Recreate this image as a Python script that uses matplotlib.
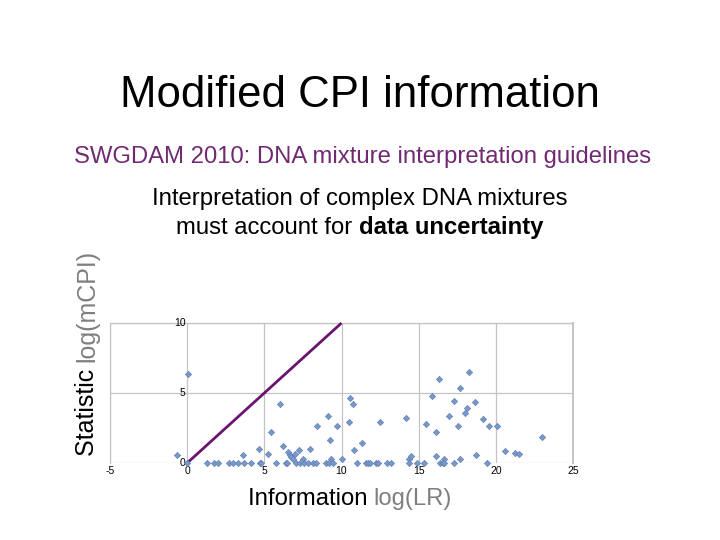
import matplotlib.pyplot as plt
import numpy as np

plt.rcParams['font.family'] = ['Liberation Sans', 'DejaVu Sans']
plt.rcParams['axes.unicode_minus'] = False

# Data: information log(LR) vs statistic log(mCPI)
lr_nonzero = [-0.64, 0.04, 3.6, 4.67, 5.25, 5.46, 6.0, 6.21, 6.53, 6.65, 6.75, 6.86,
              6.96, 7.24, 7.49, 7.97, 8.42, 9.1, 9.25, 9.31, 9.68, 10.0, 10.56, 10.74,
              10.5, 10.78, 11.3, 12.5, 14.18, 14.35, 14.48, 15.5, 15.86, 16.15, 16.15,
              16.3, 16.67, 16.99, 17.27, 17.58, 17.68, 17.7, 18.0, 18.1, 18.29, 18.66,
              18.72, 19.18, 19.55, 20.1, 20.61, 21.27, 21.47, 22.97]
cpi_nonzero = [0.6, 6.36, 0.6, 1.03, 0.67, 2.2, 4.2, 1.25, 0.79, 0.6, 0.45, 0.28,
               0.67, 0.96, 0.31, 1.03, 2.66, 3.37, 1.67, 0.31, 2.62, 0.26, 4.64, 4.18,
               2.9, 0.96, 1.44, 2.95, 3.18, 0.31, 0.48, 2.82, 4.79, 2.2, 0.47,
               5.99, 0.26, 3.34, 4.46, 2.65, 5.39, 0.3, 3.55, 3.9, 6.48, 4.34,
               0.58, 3.16, 2.63, 2.66, 0.84, 0.72, 0.62, 1.87]
lr_zero = [0.0, 1.28, 1.71, 2.03, 2.74, 2.95, 3.32, 3.68, 4.11, 4.71, 4.8, 5.78,
           6.38, 6.47, 7.07, 7.28, 7.6, 7.82, 8.14, 8.35, 9.0, 9.17, 9.42, 11.0,
           11.58, 11.69, 11.84, 12.23, 12.34, 12.92, 13.2, 14.35, 14.87, 15.37,
           16.39, 16.56, 16.67, 17.27, 19.46]
cpi_zero = [0.0] * len(lr_zero)

# identity line log(mCPI) = log(LR)
line_x = [0, 10]
line_y = [0, 10]

x_ticks = [-5, 0, 5, 10, 15, 20, 25]
y_ticks = [0, 5, 10]

purple = '#6a1470'
grid_col = '#c4c4c4'

fig = plt.figure(figsize=(7.2, 5.4), dpi=100)
fig.patch.set_facecolor('white')

# slide text
fig.text(0.5, 0.823, 'Modified CPI information', ha='center', va='center',
         fontsize=31.5, color='black')
fig.text(0.504, 0.709, 'SWGDAM 2010: DNA mixture interpretation guidelines',
         ha='center', va='center', fontsize=17.2, color='#702a72')
fig.text(0.5, 0.631, 'Interpretation of complex DNA mixtures',
         ha='center', va='center', fontsize=17.2, color='black')
# second line with bold part
t1 = fig.text(0.5, 0.578, 'must account for ', ha='right', va='center',
              fontsize=17.2, color='black')
fig.canvas.draw()
r = fig.canvas.get_renderer()
w1 = t1.get_window_extent(r).width
t2 = fig.text(0.5, 0.578, 'data uncertainty', ha='left', va='center',
              fontsize=17.2, fontweight='bold', color='black')
w2 = t2.get_window_extent(r).width
shift = (w1 - w2) / 2 / fig.bbox.width
t1.set_x(0.5 + shift)
t2.set_x(0.5 + shift)

ax = fig.add_axes([110 / 720, 1 - 463 / 540, 463 / 720, 140 / 540])
ax.set_xlim(-5, 25)
ax.set_ylim(0, 10)

ax.set_xticks(x_ticks)
ax.set_yticks(y_ticks)
ax.grid(True, color=grid_col, linewidth=0.9)
ax.set_axisbelow(True)
ax.tick_params(axis='both', length=0, labelsize=7.5, pad=2)
ax.set_yticklabels([])
for v in y_ticks:
    ax.text(-0.1, v, str(v), ha='right', va='center', fontsize=7.5)

for side in ['left', 'right', 'top']:
    ax.spines[side].set_color(grid_col)
    ax.spines[side].set_linewidth(0.9)
ax.spines['right'].set_linewidth(1.4)
ax.spines['bottom'].set_visible(False)

ax.plot(line_x, line_y, color=purple, linewidth=2.0, zorder=3, clip_on=False,
        solid_capstyle='butt')
ax.plot(lr_nonzero, cpi_nonzero, linestyle='none', marker='D', markersize=3.2,
        markerfacecolor='#7898c8', markeredgecolor='#6282b6', markeredgewidth=0.5,
        zorder=4, clip_on=False)
ax.plot(lr_zero, cpi_zero, linestyle='none', marker='D', markersize=3.2,
        markerfacecolor='#7898c8', markeredgecolor='#6282b6', markeredgewidth=0.5,
        zorder=4, clip_on=False)

# axis labels with two colours
fig.text(0.519, 0.076, 'Information ', ha='right', va='center', fontsize=17.2, color='black')
fig.text(0.519, 0.076, 'log(LR)', ha='left', va='center', fontsize=17.2, color='#7f7f7f')
fig.text(0.121, 0.330, 'Statistic ', ha='center', va='top', rotation=90,
         fontsize=18, color='black')
fig.text(0.121, 0.330, 'log(mCPI)', ha='center', va='bottom', rotation=90,
         fontsize=18, color='#7f7f7f')

fig.savefig('out.png', dpi=100)
